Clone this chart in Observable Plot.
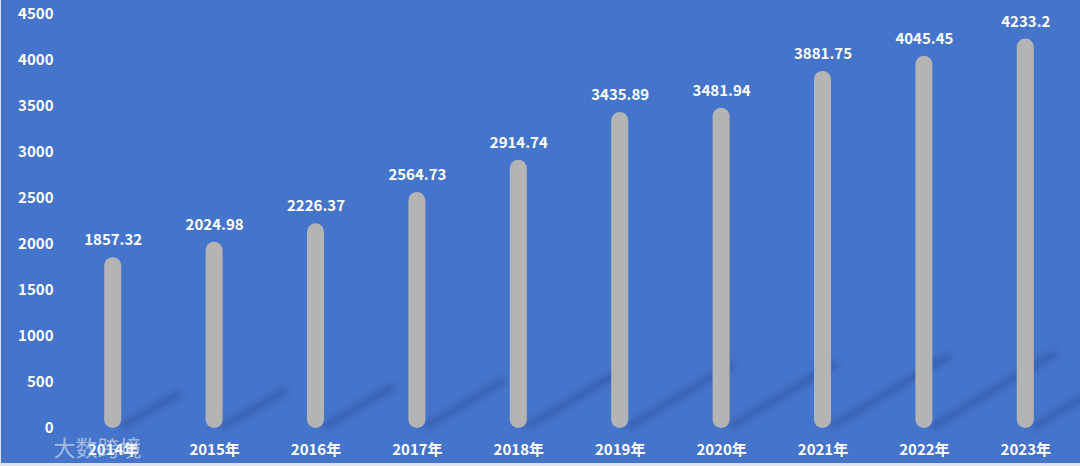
<!DOCTYPE html>
<html>
<head>
<meta charset="utf-8">
<script src="https://cdn.jsdelivr.net/npm/d3@7"></script>
<script src="https://cdn.jsdelivr.net/npm/@observablehq/plot@0.6"></script>
<style>
  html, body { margin: 0; padding: 0; background: #dfe3ea; }
  #chart { position: absolute; left: 1px; top: 0; width: 1079px; height: 463px; overflow: hidden; background: #4574CB; }
  svg { display: block; }
</style>
</head>
<body>
<div id="chart"></div>
<script>
const years = ["2014年", "2015年", "2016年", "2017年", "2018年", "2019年", "2020年", "2021年", "2022年", "2023年"];
const values = [1857.32, 2024.98, 2226.37, 2564.73, 2914.74, 3435.89, 3481.94, 3881.75, 4045.45, 4233.2];
const valueLabels = ["1857.32", "2024.98", "2226.37", "2564.73", "2914.74", "3435.89", "3481.94", "3881.75", "4045.45", "4233.2"];

const data = years.map((y, i) => ({i, year: y, value: values[i], label: valueLabels[i]}));

const halfBar = 0.084;      // half bar width in band units
const shadowDX = 0.00029;   // shadow horizontal reach per unit value
const shadowDY = 0.2;       // shadow vertical reach per unit value

const font = "'Noto Sans CJK SC', 'Noto Sans', sans-serif";

const chart = Plot.plot({
  width: 1079,
  height: 466,
  marginTop: 14,
  marginBottom: 38,
  marginLeft: 61,
  marginRight: 4,
  style: {background: "transparent", color: "white", fontFamily: font, fontSize: "15px", fontWeight: "bold"},
  x: {domain: [-0.5, 9.5], ticks: 10, tickFormat: i => years[i], tickSize: 0, tickPadding: 16, label: null},
  y: {domain: [0, 4500], ticks: 9, tickFormat: d => String(d), tickSize: 0, tickPadding: 9, label: null},
  marks: [
    Plot.link(data, {
      x1: d => d.i + 0.1, y1: 30,
      x2: d => d.i + 0.1 + d.value * shadowDX, y2: d => d.value * shadowDY,
      stroke: "#1f3f80", strokeOpacity: 0.38, strokeWidth: 7, strokeLinecap: "round"
    }),
    Plot.rect(data, {
      x1: d => d.i - halfBar, x2: d => d.i + halfBar,
      y1: 0, y2: "value", rx: 8.5, fill: "#B4B4B4"
    }),
    Plot.text(data, {x: "i", y: "value", text: "label", dy: -17, fill: "white", fontSize: 15, fontWeight: "bold"}),
    Plot.text(["大数跨境"], {frameAnchor: "bottom-left", text: d => d, dx: -9, dy: 20, lineAnchor: "middle", fill: "#e6ebf5", fillOpacity: 0.6, fontSize: 22, fontWeight: "normal", textAnchor: "start"})
  ]
});

chart.querySelectorAll('g[aria-label="link"]').forEach(g => g.style.filter = "blur(3px)");
document.getElementById("chart").appendChild(chart);
</script>
</body>
</html>
